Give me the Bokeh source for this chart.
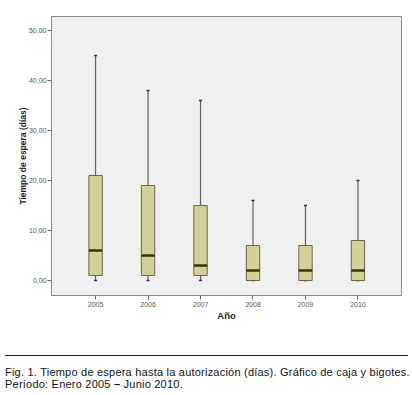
from bokeh.plotting import figure
from bokeh.models import Range1d, FixedTicker, Div
from bokeh.layouts import column
from bokeh.embed import file_html
from bokeh.resources import INLINE

years = ["2005", "2006", "2007", "2008", "2009", "2010"]
lower = [0, 0, 0, 0, 0, 0]
q1 = [1, 1, 1, 0, 0, 0]
median = [6, 5, 3, 2, 2, 2]
q3 = [21, 19, 15, 7, 7, 8]
upper = [45, 38, 36, 16, 15, 20]
y_ticks = [0, 10, 20, 30, 40, 50]

xs = [i + 1 for i in range(len(years))]

FONT = "Liberation Sans"
BOX_FILL = "#d5cf99"
BOX_LINE = "#6a6448"
WHISK = "#606060"

p = figure(width=412, height=338, output_backend="svg", toolbar_location=None,
           x_range=Range1d(0.16, 6.83), y_range=Range1d(-3, 52.8),
           min_border_left=51, min_border_right=11, min_border_top=16, min_border_bottom=43)
p.background_fill_color = "#f0f0f0"
p.border_fill_color = "white"
p.outline_line_color = "#8a8a8a"
p.outline_line_width = 1
p.grid.visible = False

# whiskers
p.segment(x0=xs, y0=q3, x1=xs, y1=upper, line_color=WHISK, line_width=1.2)
p.segment(x0=xs, y0=lower, x1=xs, y1=q1, line_color=WHISK, line_width=1.2)
cap = 0.03
p.segment(x0=[x - cap for x in xs], y0=upper, x1=[x + cap for x in xs], y1=upper,
          line_color="#333333", line_width=1.5)
p.segment(x0=[x - cap for x in xs], y0=lower, x1=[x + cap for x in xs], y1=lower,
          line_color="#333333", line_width=1.5)
# boxes
p.vbar(x=xs, width=0.255, bottom=q1, top=q3, fill_color=BOX_FILL,
       line_color=BOX_LINE, line_width=1)
# medians
p.segment(x0=[x - 0.1275 for x in xs], y0=median, x1=[x + 0.1275 for x in xs], y1=median,
          line_color="#3a3214", line_width=2.5)

for ax in (p.xaxis[0], p.yaxis[0]):
    ax.axis_line_color = "#8a8a8a"
    ax.major_tick_line_color = "#666666"
    ax.major_tick_out = 4
    ax.major_tick_in = 0
    ax.minor_tick_line_color = None
    ax.major_label_text_font = FONT
    ax.major_label_text_font_size = "7px"
    ax.major_label_text_color = "#555555"
    ax.axis_label_text_font = FONT
    ax.axis_label_text_font_style = "bold"
    ax.axis_label_text_color = "#222222"

p.yaxis.ticker = FixedTicker(ticks=y_ticks)
p.yaxis.major_label_overrides = {t: f"{t},00" for t in y_ticks}
p.yaxis.axis_label = "Tiempo de espera (días)"
p.yaxis.axis_label_text_font_size = "8.5px"
p.yaxis.major_label_standoff = 1
p.yaxis.axis_label_standoff = -2

p.xaxis.ticker = FixedTicker(ticks=xs)
p.xaxis.major_label_overrides = {x: y for x, y in zip(xs, years)}
p.xaxis.axis_label = "Año"
p.xaxis.axis_label_text_font_size = "9.5px"
p.xaxis.major_label_standoff = 2
p.xaxis.axis_label_standoff = 0

caption = Div(text=(
    '<div style="margin-left:5px;width:407px;">'
    '<div style="border-top:1px solid #222;margin-top:17px;width:403px;"></div>'
    '<div style="font-family:\'Liberation Sans\',Arial,sans-serif;font-size:11px;'
    'letter-spacing:0.22px;white-space:nowrap;'
    'line-height:12px;margin-top:10px;color:#111;">'
    'Fig. 1. Tiempo de espera hasta la autorización (días). Gráfico de caja y bigotes.<br>'
    'Período: Enero 2005 <b>–</b> Junio 2010.</div></div>'),
    width=412, margin=0)

layout = column(p, caption, spacing=0)
open("out.html", "w").write(file_html(layout, INLINE))
